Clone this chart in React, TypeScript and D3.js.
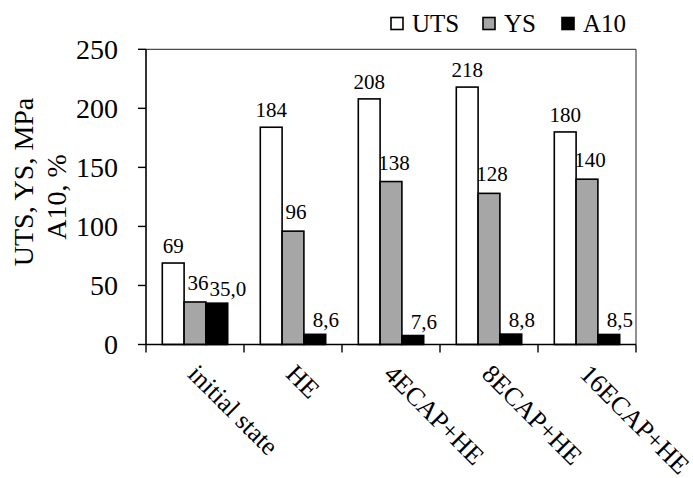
import React from "react";
import * as d3 from "d3";

const categories = ["initial state", "HE", "4ECAP+HE", "8ECAP+HE", "16ECAP+HE"];
const seriesNames = ["UTS", "YS", "A10"];
const utsValues = [69, 184, 208, 218, 180];
const ysValues = [36, 96, 138, 128, 140];
const a10Values = [35.0, 8.6, 7.6, 8.8, 8.5];
const yTicks = [0, 50, 100, 150, 200, 250];
const yTitleLines = ["UTS, YS, MPa", "A10, %"];

const W = 693;
const H = 478;
const FONT = "'Liberation Serif', 'Times New Roman', serif";

const fills: Record<string, string> = { UTS: "#ffffff", YS: "#a6a6a6", A10: "#000000" };
const labelDx: Record<string, number> = { UTS: 0, YS: 3, A10: 11 };
const labelGap: Record<string, number> = { UTS: 10, YS: 12, A10: 7 };

const fmt = (name: string, v: number) =>
  name === "A10" ? v.toFixed(1).replace(".", ",") : String(v);

export default function App() {
  const plotLeft = 146;
  const plotRight = 636;
  const plotTop = 49.3;
  const plotBottom = 344.5;

  const x = d3.scaleBand<string>().domain(categories).range([plotLeft, plotRight]).padding(0);
  const bw = x.bandwidth();
  const pad = (bw - 65.4) / 2;
  const xs = d3.scaleBand<string>().domain(seriesNames).range([pad, bw - pad]).padding(0);
  const y = d3.scaleLinear().domain([0, 250]).range([plotBottom, plotTop]);

  const seriesData: Record<string, number[]> = { UTS: utsValues, YS: ysValues, A10: a10Values };

  const boundaries = categories.map((c) => x(c) as number).concat([plotRight]);

  return (
    <svg
      width={W}
      height={H}
      style={{ position: "absolute", left: 0, top: 0, display: "block", background: "#fff" }}
      fontFamily={FONT}
    >
      <rect x={0} y={0} width={W} height={H} fill="#fff" />
      {/* frame */}
      <line x1={plotLeft} x2={plotRight} y1={plotTop} y2={plotTop} stroke="#222" strokeWidth={1} />
      <line x1={plotRight} x2={plotRight} y1={plotTop} y2={plotBottom} stroke="#222" strokeWidth={1} />

      {/* bars */}
      {seriesNames.map((s) =>
        categories.map((c, i) => {
          const v = seriesData[s][i];
          const bx = (x(c) as number) + (xs(s) as number);
          const by = y(v);
          return (
            <rect
              key={s + c}
              x={bx}
              y={by}
              width={xs.bandwidth()}
              height={plotBottom - by}
              fill={fills[s]}
              stroke="#000"
              strokeWidth={1.6}
            />
          );
        })
      )}

      {/* value labels */}
      {seriesNames.map((s) =>
        categories.map((c, i) => {
          const v = seriesData[s][i];
          const cx = (x(c) as number) + (xs(s) as number) + xs.bandwidth() / 2 + labelDx[s];
          return (
            <text
              key={"l" + s + c}
              x={cx}
              y={y(v) - labelGap[s]}
              textAnchor="middle"
              fontSize={21}
              fill="#000"
            >
              {fmt(s, v)}
            </text>
          );
        })
      )}

      {/* axes */}
      <line x1={plotLeft} x2={plotLeft} y1={plotTop} y2={plotBottom} stroke="#000" strokeWidth={1.6} />
      <line x1={plotLeft} x2={plotRight} y1={plotBottom} y2={plotBottom} stroke="#000" strokeWidth={1.6} />

      {/* y ticks */}
      {yTicks.map((t) => (
        <g key={"yt" + t}>
          <line x1={plotLeft - 8} x2={plotLeft} y1={y(t)} y2={y(t)} stroke="#000" strokeWidth={1.4} />
          <text x={118} y={y(t)} dy="0.35em" textAnchor="end" fontSize={28} fill="#000">
            {t}
          </text>
        </g>
      ))}

      {/* x ticks */}
      {boundaries.map((b, i) => (
        <line key={"xt" + i} x1={b} x2={b} y1={plotBottom} y2={plotBottom + 8} stroke="#000" strokeWidth={1.4} />
      ))}

      {/* x labels */}
      {categories.map((c) => {
        const cx = (x(c) as number) + bw / 2 - 3;
        const cy = 370;
        return (
          <text
            key={"xl" + c}
            x={0}
            y={0}
            transform={`translate(${cx},${cy}) rotate(45)`}
            textAnchor="start"
            fontSize={26}
            dy="0.3em"
            fill="#000"
          >
            {c}
          </text>
        );
      })}

      {/* y title */}
      <text transform={`translate(33,182) rotate(-90)`} textAnchor="middle" fontSize={28} fill="#000">
        {yTitleLines[0]}
      </text>
      <text transform={`translate(66,197) rotate(-90)`} textAnchor="middle" fontSize={28} fill="#000">
        {yTitleLines[1]}
      </text>

      {/* legend */}
      {seriesNames.map((s, i) => {
        const lx = [391, 483, 562][i];
        return (
          <g key={"lg" + s}>
            <rect x={lx} y={17.5} width={12} height={12} fill={fills[s]} stroke="#000" strokeWidth={1.6} />
            <text x={lx + 21} y={32} fontSize={25} fill="#000">
              {s}
            </text>
          </g>
        );
      })}
    </svg>
  );
}
